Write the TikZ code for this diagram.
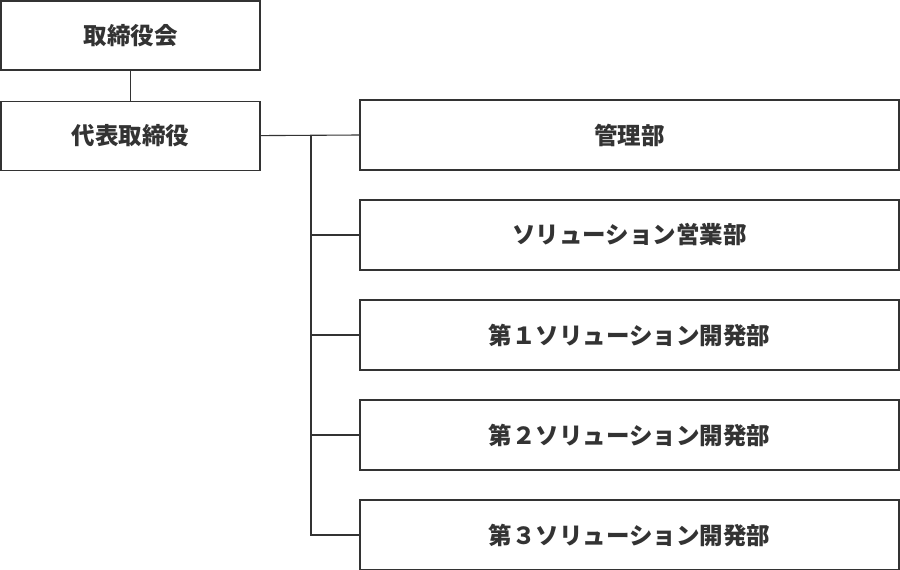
\documentclass[tikz,border=0pt]{standalone}
\usepackage{fontspec}
\newfontfamily\jpfont{Noto Sans CJK JP}
\usetikzlibrary{positioning}
\definecolor{inkgray}{HTML}{333333}

\begin{document}
\begin{tikzpicture}[x=1pt, y=-1pt,
        orgbox/.style={draw=inkgray, line width=1.1pt, inner sep=0pt, text=inkgray,
            font=\jpfont\bfseries\fontsize{23.5}{28}\selectfont},
        topbox/.style={orgbox, minimum width=259pt, minimum height=69pt},
        deptbox/.style={orgbox, minimum width=539pt, minimum height=70pt},
        link/.style={draw=inkgray, line width=1.1pt}]
        \useasboundingbox (0,0) rectangle (900,570);

        \node[topbox] (board) at (130.5,35.5) {取締役会};
        \node[topbox, below=30pt of board] (ceo) {代表取締役};

        \node[deptbox] (kanri) at (629.5,135) {管理部};
        \node[deptbox] (eigyo) at (629.5,235) {ソリューション営業部};
        \foreach \n in {1, 2, 3} {
            \node[deptbox] (dev\n) at (629.5,235+100*\n) {第\symbol{\numexpr"FF10+\n\relax}ソリューション開発部};
        }

        \coordinate (branch) at (311,135);
        \draw[link] (board) -- (ceo);
        \draw[link] (ceo.east) -- (kanri.west);
        \foreach \name in {eigyo, dev1, dev2, dev3} {
            \draw[link] (branch) |- (\name.west);
        }
    \end{tikzpicture}
\end{document}
